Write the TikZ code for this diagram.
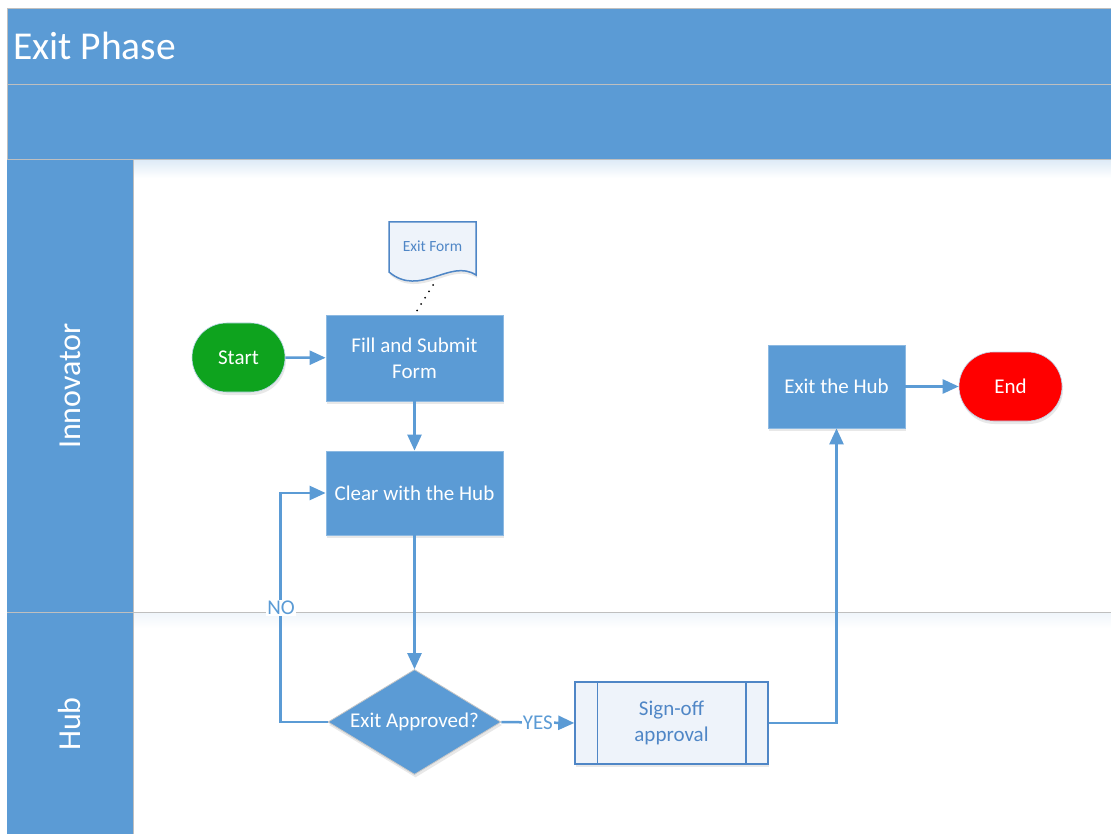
\documentclass[tikz,border=0pt]{standalone}
\usepackage{fontspec}
\setmainfont{Carlito}
\usetikzlibrary{arrows.meta,shapes.geometric,shapes.misc,shadows}

\definecolor{lane}{HTML}{5B9BD5}
\definecolor{rule}{HTML}{BFBFBF}
\definecolor{ink}{HTML}{4F86C6}
\definecolor{startgreen}{HTML}{0EA31E}
\definecolor{endred}{HTML}{FF0000}
\definecolor{paper}{HTML}{EEF3FA}

\tikzset{
  soft/.style={drop shadow={opacity=0.18, shadow xshift=1pt, shadow yshift=-3pt}},
  proc/.style={rectangle, fill=lane, draw=lane!70!white, line width=0.8pt,
    text=white, align=center, inner sep=2pt, soft,
    font=\fontsize{21}{26}\selectfont},
  term/.style={rounded rectangle, draw=lane!40!white, line width=0.6pt,
    text=white, inner sep=2pt, soft, font=\fontsize{21}{26}\selectfont},
  decide/.style={diamond, shape aspect=1.65, fill=lane, draw=black!22, line width=0.8pt,
    text=white, inner sep=0pt, soft, font=\fontsize{21}{26}\selectfont},
  subproc/.style={rectangle, fill=paper, draw=ink, line width=1.5pt,
    text=ink, align=center, soft, font=\fontsize{21}{26}\selectfont},
  conn/.style={draw=lane, line width=2.5pt,
    -{Triangle[length=16pt,width=14pt]}},
  flowlabel/.style={fill=white, text=lane, inner sep=1pt,
    font=\fontsize{21}{24}\selectfont},
}

\begin{document}
\begin{tikzpicture}[x=1pt,y=-1pt]
\useasboundingbox (0,0) rectangle (1111,834);
\fill[white] (0,0) rectangle (1111,834);

% header bands
\fill[lane] (7,9) rectangle (1111,160);
\shade[top color=lane!20, bottom color=white] (133,160) rectangle (1111,178);
\shade[top color=lane!10, bottom color=white] (133,612) rectangle (1111,628);
\draw[rule, line width=1pt] (1111,9) -- (7,9) -- (7,834);
\draw[rule, line width=1pt] (7,85) -- (1111,85);
\draw[rule, line width=1pt] (7,160) -- (1111,160);

% lane headers
\fill[lane] (7,160) rectangle (133,834);
\draw[rule, line width=1pt] (133,160) -- (133,834);
\draw[rule, line width=1pt] (7,612) -- (1111,612);

\node[anchor=west, text=white, inner sep=0pt, font=\fontsize{39.5}{44}\selectfont]
  (title) at (13,46) {Exit Phase};
\node[rotate=90, text=white, font=\fontsize{32}{36}\selectfont]
  (laneA) at (70,386) {Innovator};
\node[rotate=90, text=white, font=\fontsize{32}{36}\selectfont]
  (laneB) at (70,724) {Hub};

% document shape
\path[draw=ink, fill=paper, line width=1.5pt, soft]
  (389,222) -- (476,222) -- (476,275)
  .. controls (450,258) and (420,298) .. (389,272) -- cycle;
\node[text=ink, font=\fontsize{15.5}{18}\selectfont] (doc) at (432.5,246) {Exit Form};
\coordinate (docfoot) at (433,285);

% flow shapes
\node[term, fill=startgreen, minimum width=97pt, minimum height=69pt]
  (start) at (238.5,357.5) {Start};
\node[proc, minimum width=177pt, minimum height=86pt]
  (fill) at (414.5,358) {Fill and Submit\\Form};
\node[proc, minimum width=177pt, minimum height=84pt]
  (clear) at (414.5,493) {Clear with the Hub};
\node[decide, minimum width=173pt, minimum height=105pt]
  (dia) at (414.5,722) {Exit Approved?};
\node[subproc, minimum width=193pt, minimum height=82pt]
  (sign) at (671.5,723) {Sign-off\\approval};
\draw[ink, line width=1.5pt] ([xshift=23pt]sign.north west) -- ([xshift=23pt]sign.south west);
\draw[ink, line width=1.5pt] ([xshift=-23pt]sign.north east) -- ([xshift=-23pt]sign.south east);
\node[proc, minimum width=137pt, minimum height=83pt]
  (exit) at (836.5,386.5) {Exit the Hub};
\node[term, fill=endred, minimum width=107pt, minimum height=69pt]
  (end) at (1010.5,386.5) {End};

% connectors
\draw[line width=2pt, line cap=round, dash pattern=on 0pt off 7.5pt] (docfoot) -- (fill.north);
\draw[conn] (start) -- (fill);
\draw[conn] (fill) -- (clear);
\draw[conn] (clear) -- (dia);
\draw[conn] (dia.west) -| ([xshift=-45pt]clear.west) -- (clear.west);
\node[flowlabel] (no) at (281,608) {NO};
\draw[conn] (dia.east) -- node[flowlabel] (yes) {YES} (sign.west);
\draw[conn] (sign.east) -| (exit.south);
\draw[conn] (exit) -- (end);
\end{tikzpicture}
\end{document}
